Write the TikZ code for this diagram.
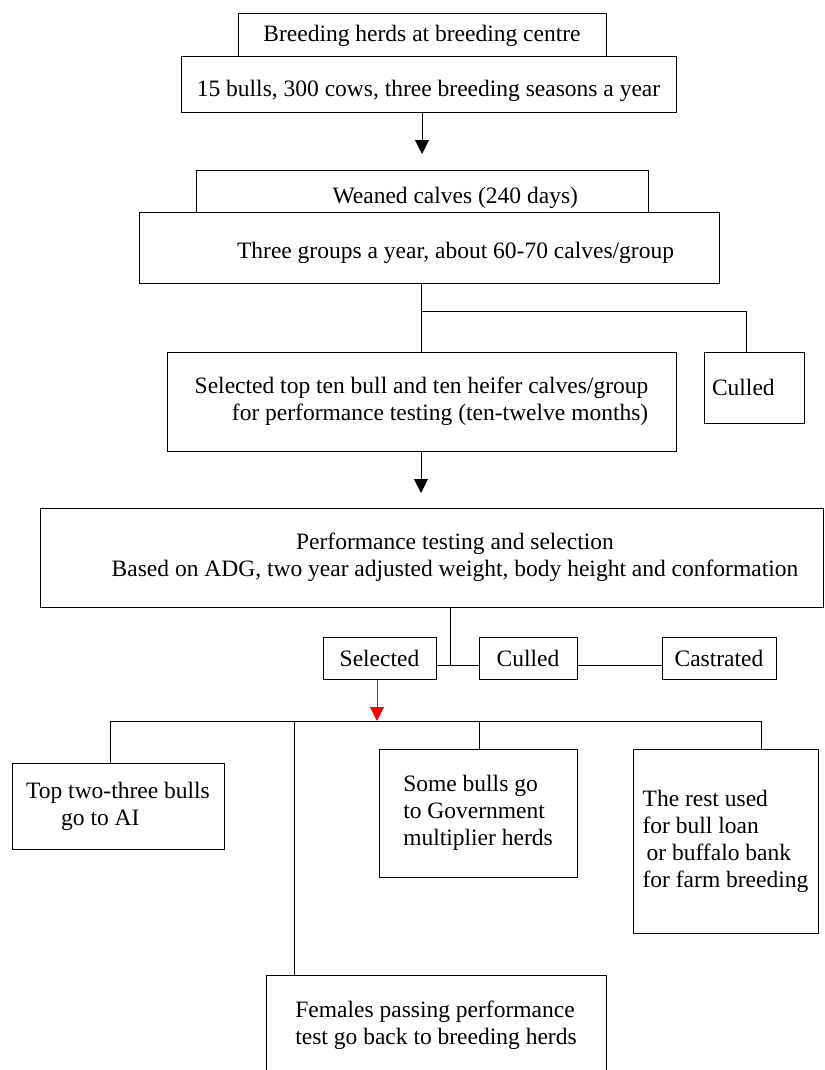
\documentclass[tikz,border=0pt]{standalone}
\usepackage{fontspec}
\setmainfont{Liberation Serif}
\usetikzlibrary{arrows.meta}

\begin{document}
\begin{tikzpicture}
  [x=1pt,y=1pt,line width=1pt,
   every node/.style={draw,inner sep=0pt,font=\fontsize{23.5}{27}\selectfont},
   arr/.style={-{Triangle[length=14pt,width=14pt]}}]
  \useasboundingbox (0,0) rectangle (824,-1070);

  % breeding centre
  \node[minimum width=368pt,minimum height=43pt] (n1) at (422,-35.5) {Breeding herds at breeding centre};
  \node[minimum width=495pt,minimum height=56pt,text height=24pt,text depth=0pt] (n2) at (428.5,-85) {15 bulls, 300 cows, three breeding seasons a year};
  \node[minimum width=452pt,minimum height=42pt,text height=24pt,text depth=0pt,text width=312pt,inner xsep=70pt,align=flush right] (n3) at (422,-191) {Weaned calves (240 days)};
  \node[minimum width=580pt,minimum height=71pt,text height=21pt,text depth=0pt,text width=490pt,inner xsep=45pt,align=flush right] (n4) at (429,-247.5) {Three groups a year, about 60-70 calves/group};
  \node[minimum width=509pt,minimum height=99pt,align=right] (n5) at (421.5,-401.5) {Selected top ten bull and ten heifer calves/group\\for performance testing (ten-twelve months)};
  \node[minimum width=100pt,minimum height=71pt,text width=84pt,inner xsep=8pt,align=flush left] (n6) at (754,-387.5) {Culled};

  % testing
  \node[minimum width=783pt,minimum height=99pt,align=center] (n7) at (431.5,-557.5) {\hspace*{47pt}Performance testing and selection\\\hspace*{47pt}Based on ADG, two year adjusted weight, body height and conformation};
  \node[minimum width=113pt,minimum height=42pt] (n8) at (379.5,-658) {Selected};
  \node[minimum width=98pt,minimum height=42pt] (n9) at (528,-658) {Culled};
  \node[minimum width=114pt,minimum height=42pt] (n10) at (719,-658) {Castrated};

  % use of selected animals
  \node[minimum width=212pt,minimum height=86pt,align=left] (n11) at (118,-806) {Top two-three bulls\\\hspace*{35pt}go to AI};
  \node[minimum width=340pt,minimum height=100pt,align=left] (n12) at (436,-1025) {Females passing performance\\test go back to breeding herds};
  \node[minimum width=198pt,minimum height=128pt,align=left] (n13) at (478,-813) {Some bulls go\\to Government\\multiplier herds};
  \node[minimum width=185pt,minimum height=184pt,align=left] (n14) at (725.5,-841) {The rest used\\for bull loan\\\hspace*{4pt}or buffalo bank\\for farm breeding};

  \coordinate (a1) at (422,-154);
  \coordinate (c1) at (421,-311);
  \coordinate (c2) at (746,-311);
  \coordinate (a2) at (421,-493);
  \coordinate (c3) at (450,-665);
  \coordinate (a3) at (377,-721);
  \coordinate (c4) at (110,-721);
  \coordinate (c6) at (294,-721);
  \coordinate (c7) at (479,-721);
  \coordinate (c5) at (761,-721);

  \draw[arr] (n2.south -| a1) -- (a1);
  \draw (n4.south -| c1) -- (c1 |- n5.north);
  \draw (c1) -- (c2) -- (c2 |- n6.north);
  \draw[arr] (n5.south -| a2) -- (a2);
  \draw (n7.south -| c3) -- (c3);
  \draw (c3 -| n8.east) -- (c3 -| n9.west);
  \draw (c3 -| n9.east) -- (c3 -| n10.west);
  \draw (c4) -- (c5);
  \foreach \from/\to in {c4/n11,c6/n12,c7/n13,c5/n14}
    \draw (\from) -- (\from |- \to.north);
  \draw[arr,red] (n8.south -| a3) -- (a3);
\end{tikzpicture}
\end{document}
